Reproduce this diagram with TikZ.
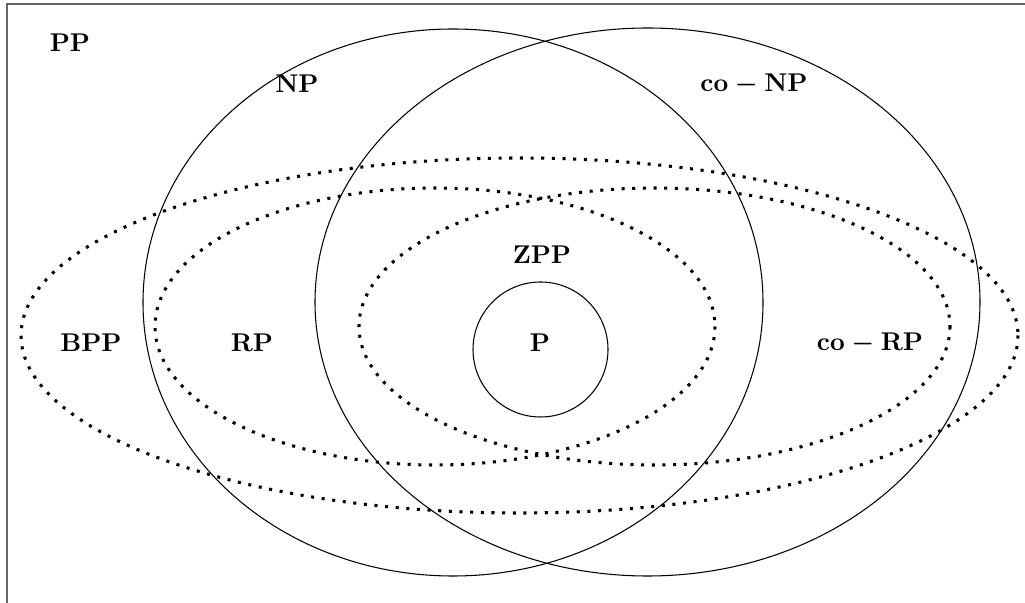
\documentclass[tikz,border=0pt]{standalone}
\usepackage{amsmath}
\usepackage{xcolor}
\usepackage{tikz}

\begin{document}
\begin{tikzpicture}[x=0.015cm,y=-0.015cm,
    classline/.style={line width=0.45pt},
    randline/.style={line width=1.3pt,dash pattern=on 1.3pt off 3.25pt},
    classname/.style={font=\boldmath\fontsize{11.2}{13}\selectfont}]
            \useasboundingbox (0,0) rectangle (1025,603);
            \draw[black!60,line width=0.9pt] (7,610)--(7,4)--(1030,4);

            \draw[classline] (453,302.5) ellipse (310 and 273.5);
            \draw[classline] (647.5,302) ellipse (332.5 and 274);

            \draw[randline] (519.5,335.5) ellipse (498.5 and 177.5);
            \draw[randline] (435,326.5) ellipse (280 and 138.5);
            \draw[randline] (654.5,326.5) ellipse (295.5 and 138.5);

            \draw[classline] (540.5,349.5) circle (67.5);

            \node[classname] (pp) at (70,43) {$\mathbf{PP}$};
            \node[classname] (np) at (297,84) {$\mathbf{NP}$};
            \node[classname] (conp) at (754,84) {$\mathbf{co-NP}$};
            \node[classname] (bpp) at (91,343) {$\mathbf{BPP}$};
            \node[classname] (rp) at (252,343) {$\mathbf{RP}$};
            \node[classname] (zpp) at (542,255) {$\mathbf{ZPP}$};
            \node[classname] (p) at (540,343) {$\mathbf{P}$};
            \node[classname] (corp) at (870,343) {$\mathbf{co-RP}$};
        \end{tikzpicture}
\end{document}
